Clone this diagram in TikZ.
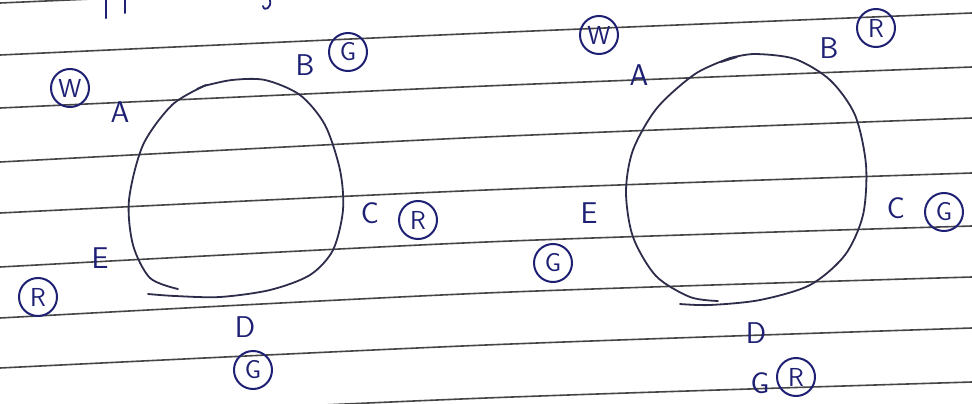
\documentclass[tikz,border=0pt]{standalone}
\usepackage{fontspec}
\usepackage{tikz}
\definecolor{ink}{RGB}{30,32,115}
\definecolor{pencil}{RGB}{45,45,75}
\definecolor{rulegray}{RGB}{70,70,70}
\begin{document}
\begin{tikzpicture}[x=1pt, y=-1pt, line cap=round,
  rule/.style={rulegray, line width=1.6pt},
  loop/.style={pencil, line width=1.8pt},
  lbl/.style={ink, font=\fontsize{30}{30}\sffamily},
  ring/.style={ink, draw, circle, line width=2pt, inner sep=0pt, minimum size=38pt, font=\fontsize{26}{26}\sffamily}]
\useasboundingbox (0,0) rectangle (972,404);
\clip (0,0) rectangle (972,404);
\fill[white] (0,0) rectangle (972,404);
\foreach \a/\b/\c in {3/-18/-38, 55/33/13, 108/86/67, 162/137/118, 213/190/173, 267/242/226, 318/293/277, 368/345/328, 420/398/382}
  \draw[rule] plot[smooth] coordinates {(0,\a) (486,\b) (972,\c)};
\draw[ink, line width=2.2pt] (106,0) -- (106,18);
\draw[ink, line width=2pt] (125,0) -- (125,13);
\draw[ink, line width=1.8pt] (270,0) .. controls (272,8) and (264,12) .. (263,6);
\draw[loop] (197,89) -- (206,85);
\draw[loop] plot[smooth] coordinates {(204,86) (232,80) (265,80) (300,95) (325,125) (340,170) (343,210) (333,250) (310,275) (270,290) (220,297) (175,296) (148,294)};
\draw[loop] plot[smooth] coordinates {(204,86) (172,105) (143,145) (129,200) (133,245) (150,278) (178,289)};
\draw[loop] (721,62) -- (737,57);
\draw[loop] plot[smooth] coordinates {(730,58) (755,54) (795,59) (830,80) (855,115) (866,165) (863,215) (845,255) (810,285) (760,300) (710,305) (680,304)};
\draw[loop] plot[smooth] coordinates {(730,58) (695,74) (657,108) (633,150) (626,192) (633,237) (656,276) (690,297) (718,301)};
\node[ring] (lw) at (70,88) {W};
\node[lbl] (la) at (120,112) {A};
\node[lbl] (lb) at (305,65) {B};
\node[ring] (lbg) at (348,52) {G};
\node[lbl] (lc) at (370,213) {C};
\node[ring] (lcr) at (418,220) {R};
\node[lbl] (le) at (100,258) {E};
\node[ring] (ler) at (38,297) {R};
\node[lbl] (ld) at (245,327) {D};
\node[ring] (ldg) at (253,370) {G};
\node[ring] (rw) at (599,35) {W};
\node[lbl] (ra) at (639,75) {A};
\node[lbl] (rb) at (829,48) {B};
\node[ring] (rbr) at (876,28) {R};
\node[lbl] (rc) at (896,208) {C};
\node[ring] (rcg) at (944,212) {G};
\node[lbl] (re) at (589,213) {E};
\node[ring] (reg) at (553,263) {G};
\node[lbl] (rd) at (756,333) {D};
\node[lbl] (rdg) at (760,383) {G};
\node[ring] (rdr) at (796,377) {R};
\end{tikzpicture}
\end{document}
